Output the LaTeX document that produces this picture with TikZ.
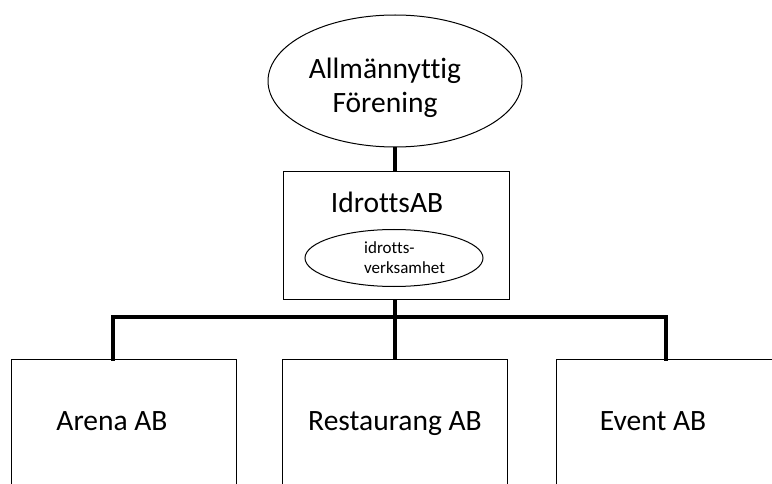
\documentclass[tikz,border=0pt]{standalone}
\usepackage{fontspec}
\setmainfont{Carlito}[Ligatures={NoCommon}]
\usetikzlibrary{shapes.geometric,calc}
\begin{document}
\begin{tikzpicture}[x=1pt,y=1pt,
  thin line/.style={draw=black,line width=1pt},
  big text/.style={font=\fontsize{29.5}{34}\selectfont,inner sep=0pt},
  small text/.style={font=\fontsize{17}{20}\selectfont,inner sep=0pt},
  conn/.style={line width=3.5pt,draw=black}]
\useasboundingbox (0,0) rectangle (772,483);
\node[thin line,ellipse,minimum width=254,minimum height=132,inner sep=0pt] (top) at (395,402) {};
\node[big text,align=center] (toptext) at (385,395) {Allmännyttig\\Förening};
\node[thin line,rectangle,minimum width=226,minimum height=127,inner sep=0pt] (idr) at (396,247.5) {};
\node[big text,anchor=base] (idrtext) at (387,270) {IdrottsAB};
\node[thin line,ellipse,minimum width=178,minimum height=57,inner sep=0pt] (verk) at (394,225) {};
\node[small text,align=left,anchor=west] (verktext) at (364,225) {idrotts-\\verksamhet};
\node[thin line,rectangle,minimum width=225,minimum height=150,inner sep=0pt,anchor=north west] (arena) at (11,124) {};
\node[thin line,rectangle,minimum width=225,minimum height=150,inner sep=0pt,anchor=north west] (rest) at (282,124) {};
\node[thin line,rectangle,minimum width=226,minimum height=150,inner sep=0pt,anchor=north west] (event) at (556,124) {};
\node[big text,anchor=base] (arenatext) at (112,53) {Arena AB};
\node[big text,anchor=base] (resttext) at (395,53) {Restaurang AB};
\node[big text,anchor=base] (eventtext) at (653,53) {Event AB};
\coordinate (junc) at (395,166);
\coordinate (da) at ($(arena.north west)+(102,0)$);
\coordinate (dr) at ($(rest.north west)+(113,0)$);
\coordinate (de) at ($(event.north west)+(110,0)$);
\draw[conn] (top.south) -- (top.south |- idr.north);
\draw[conn] (idr.south -| junc) -- (junc);
\draw[conn,line cap=rect] (junc) -| (da);
\draw[conn,line cap=rect] (junc) -| (de);
\draw[conn] (junc) -- (dr);
\end{tikzpicture}
\end{document}
